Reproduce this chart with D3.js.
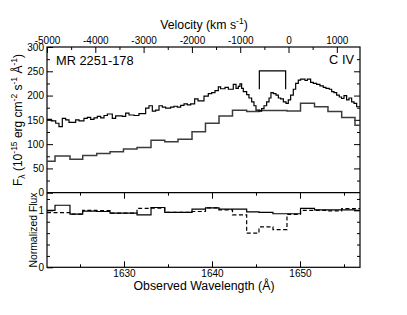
<!DOCTYPE html>
<html lang="en">
<head>
<meta charset="utf-8">
<style>
  body { margin: 0; background: white; }
  svg { font-family: 'Liberation Sans', Arial, sans-serif; }
  .tick line { stroke: black; }
  .tick text { font-size: 10px; fill: black; }
  .frame { fill: none; stroke: black; stroke-width: 1.2; }
</style>
</head>
<body>
<svg width="407" height="315"></svg>
<script src="https://d3js.org/d3.v7.min.js"></script>
<script>
// fine spectrum: bin edges (A) and flux (1e-15 erg/cm2/s/A)
const fineEdges = [1621.25, 1621.74, 1622.24, 1622.61, 1622.99, 1623.37, 1623.75, 1624.51, 1624.89, 1625.45,
  1625.83, 1626.21, 1626.59, 1626.97, 1627.35, 1627.73, 1628.11, 1628.67, 1629.05, 1629.81,
  1630.19, 1630.57, 1631.14, 1631.70, 1632.46, 1632.84, 1633.22, 1633.60, 1633.98, 1634.36,
  1634.73, 1635.30, 1635.68, 1636.06, 1636.44, 1636.82, 1637.20, 1637.58, 1638.03, 1638.41,
  1639.09, 1639.58, 1639.96, 1640.34, 1640.72, 1640.98, 1641.48, 1641.86, 1642.42, 1642.73,
  1642.99, 1643.18, 1643.37, 1643.56, 1643.94, 1644.20, 1644.51, 1644.77, 1645.00, 1645.38,
  1645.64, 1645.91, 1646.21, 1646.48, 1646.70, 1646.97, 1647.27, 1647.54, 1647.80, 1648.11,
  1648.41, 1648.67, 1648.94, 1649.24, 1649.51, 1649.81, 1650.08, 1650.57, 1650.83, 1651.21,
  1651.51, 1651.89, 1652.27, 1652.65, 1652.95, 1653.33, 1653.60, 1653.86, 1654.17, 1654.47,
  1654.73, 1655.00, 1655.30, 1655.57, 1655.87, 1656.14, 1656.44, 1656.82]
const fineFlux = [151, 148, 143, 136, 153, 150, 145, 150, 148, 153,
  155, 151, 154, 157, 154, 159, 162, 153, 158, 157,
  164, 160, 159, 163, 174, 179, 168, 170, 179, 176,
  174, 176, 178, 176, 180, 183, 181, 183, 193, 189,
  199, 204, 206, 210, 218, 214, 217, 213, 223, 215,
  219, 224, 215, 208, 202, 195, 187, 179, 170, 168,
  173, 179, 187, 195, 206, 204, 201, 195, 193, 187,
  184, 191, 201, 213, 225, 232, 234, 231, 234, 227,
  225, 223, 220, 217, 215, 213, 208, 206, 201, 197,
  194, 200, 191, 195, 187, 184, 177]

// coarse spectrum and normalized fluxes share the same bins
const coarseEdges = [1621.25, 1622.16, 1623.86, 1625.31, 1626.90, 1628.41, 1629.94, 1631.48, 1633.07, 1634.63,
  1636.14, 1637.73, 1639.26, 1640.80, 1642.33, 1643.94, 1645.34, 1646.93, 1648.52, 1650.06,
  1651.65, 1653.18, 1654.74, 1656.25, 1656.82]
const coarseFlux = [65, 75.5, 69, 76.5, 80.5, 84.5, 90, 93, 108, 105,
  110, 125.5, 143, 158, 170, 167, 169, 169, 168, 184,
  177, 167, 155, 139]
const normSolid = [1.00, 1.09, 0.935, 0.985, 0.98, 0.95, 0.95, 0.92, 1.05, 0.965,
  0.965, 1.02, 1.045, 1.02, 1.02, 0.975, 0.965, 0.94, 0.94, 1.035,
  1.01, 1.01, 1.01, 1.00]
const normDashed = [0.96, 0.96, 0.935, 1.00, 0.995, 0.95, 0.95, 1.035, 1.04, 0.965,
  0.965, 0.98, 1.045, 1.01, 0.92, 0.60, 0.71, 0.66, 0.93, 1.00,
  1.00, 0.99, 1.03, 1.03]

// C IV doublet marker
const doubletWave = [1645.38, 1648.37]
const doubletFlux = [213, 251]

const wlTicks = [1630, 1640, 1650]
const velTicks = [-5000, -4000, -3000, -2000, -1000, 0, 1000]

const pLeft = 47, pRight = 360, pTop = 47, pMid = 192.7, pBottom = 267.3

const x = d3.scaleLinear().domain([1621.25, 1656.82]).range([pLeft, pRight])
const v = d3.scaleLinear().domain([-5000, 1480]).range([pLeft, pRight])
const y = d3.scaleLinear().domain([0, 300]).range([pMid, pTop])
const yn = d3.scaleLinear().domain([0, 1.31]).range([pBottom, pMid])

const svg = d3.select("svg")

function steps(edges, vals) {
  const pts = vals.map(function(d, i) { return [edges[i], d] })
  pts.push([edges[edges.length - 1], vals[vals.length - 1]])
  return pts
}

function axis(gen, tr, size, ticks, labels) {
  const g = svg.append("g")
    .attr("transform", tr)
    .call(gen.tickValues(ticks).tickSize(-size).tickPadding(3)
      .tickFormat(labels ? function(d) { return d } : ""))
  g.select(".domain").remove()
  return g
}

// upper panel axes
axis(d3.axisLeft(y), "translate(" + pLeft + ",0)", 6, d3.range(0, 301, 50), true)
axis(d3.axisLeft(y), "translate(" + pLeft + ",0)", 3, d3.range(25, 300, 50), false)
axis(d3.axisRight(y), "translate(" + pRight + ",0)", 6, d3.range(50, 300, 50), false)
axis(d3.axisRight(y), "translate(" + pRight + ",0)", 3, d3.range(25, 300, 50), false)
axis(d3.axisTop(x), "translate(0," + pMid + ")", 6, wlTicks, false)
axis(d3.axisTop(x), "translate(0," + pMid + ")", 3, [1625, 1635, 1645, 1655], false)
axis(d3.axisTop(v), "translate(0," + pTop + ")", 6, velTicks, true)
axis(d3.axisTop(v), "translate(0," + pTop + ")", 3, [-4500, -3500, -2500, -1500, -500, 500], false)

// lower panel axes
axis(d3.axisLeft(yn), "translate(" + pLeft + ",0)", 6, [0, 1], true)
axis(d3.axisLeft(yn), "translate(" + pLeft + ",0)", 3, [0.2, 0.4, 0.6, 0.8, 1.2], false)
axis(d3.axisRight(yn), "translate(" + pRight + ",0)", 6, [1], false)
axis(d3.axisRight(yn), "translate(" + pRight + ",0)", 3, [0.2, 0.4, 0.6, 0.8, 1.2], false)
axis(d3.axisBottom(x), "translate(0," + pBottom + ")", 6, wlTicks, true)
  .selectAll("line").attr("y2", -6)
axis(d3.axisBottom(x), "translate(0," + pBottom + ")", 3, [1625, 1635, 1645, 1655], false)
  .selectAll("line").attr("y2", -3)

svg.append("rect").attr("class", "frame")
  .attr("x", pLeft).attr("y", pTop).attr("width", pRight - pLeft).attr("height", pBottom - pTop)
svg.append("line").attr("x1", pLeft).attr("x2", pRight).attr("y1", pMid).attr("y2", pMid)
  .attr("stroke", "black").attr("stroke-width", 1.2)

const lineTop = d3.line().curve(d3.curveStepAfter)
  .x(function(d) { return x(d[0]) }).y(function(d) { return y(d[1]) })
const lineBot = d3.line().curve(d3.curveStepAfter)
  .x(function(d) { return x(d[0]) }).y(function(d) { return yn(d[1]) })

svg.append("path").datum(steps(coarseEdges, coarseFlux))
  .attr("d", lineTop).attr("fill", "none").attr("stroke", "#3c3c3c").attr("stroke-width", 1.5)
svg.append("path").datum(steps(fineEdges, fineFlux))
  .attr("d", lineTop).attr("fill", "none").attr("stroke", "black").attr("stroke-width", 1.2)

svg.append("path").datum(steps(coarseEdges, normDashed))
  .attr("d", lineBot).attr("fill", "none").attr("stroke", "black").attr("stroke-width", 1.2)
  .attr("stroke-dasharray", "4,2.5")
svg.append("path").datum(steps(coarseEdges, normSolid))
  .attr("d", lineBot).attr("fill", "none").attr("stroke", "black").attr("stroke-width", 1.2)

// doublet bracket
svg.append("path")
  .attr("d", "M" + x(doubletWave[0]) + "," + y(doubletFlux[0]) +
    "V" + y(doubletFlux[1]) + "H" + x(doubletWave[1]) + "V" + y(doubletFlux[0]))
  .attr("fill", "none").attr("stroke", "black").attr("stroke-width", 1.2)

// texts
svg.append("text").attr("x", 56).attr("y", 65).attr("font-size", 12.8).text("MR 2251-178")
svg.append("text").attr("x", 354).attr("y", 64).attr("font-size", 12.8)
  .attr("text-anchor", "end").text("C IV")

const vt = svg.append("text").attr("x", 204).attr("y", 29).attr("font-size", 12.3)
  .attr("text-anchor", "middle")
vt.append("tspan").text("Velocity (km s")
vt.append("tspan").attr("font-size", 8.5).attr("dy", -5).text("-1")
vt.append("tspan").attr("dy", 5).text(")")

svg.append("text").attr("x", 204).attr("y", 290).attr("font-size", 12.3)
  .attr("text-anchor", "middle").text("Observed Wavelength (Å)")

const yl = svg.append("text").attr("transform", "translate(22,120) rotate(-90)")
  .attr("font-size", 12).attr("text-anchor", "middle")
yl.append("tspan").text("F")
yl.append("tspan").attr("font-size", 8.5).attr("dy", 3).text("λ")
yl.append("tspan").attr("dy", -3).text(" (10")
yl.append("tspan").attr("font-size", 8.5).attr("dy", -5).text("-15")
yl.append("tspan").attr("dy", 5).text(" erg cm")
yl.append("tspan").attr("font-size", 8.5).attr("dy", -5).text("-2")
yl.append("tspan").attr("dy", 5).text(" s")
yl.append("tspan").attr("font-size", 8.5).attr("dy", -5).text("-1")
yl.append("tspan").attr("dy", 5).text(" Å")
yl.append("tspan").attr("font-size", 8.5).attr("dy", -5).text("-1")
yl.append("tspan").attr("dy", 5).text(")")

svg.append("text").attr("transform", "translate(36.5,230) rotate(-90)")
  .attr("font-size", 10.4).attr("text-anchor", "middle").text("Normalized Flux")
</script>
</body>
</html>
